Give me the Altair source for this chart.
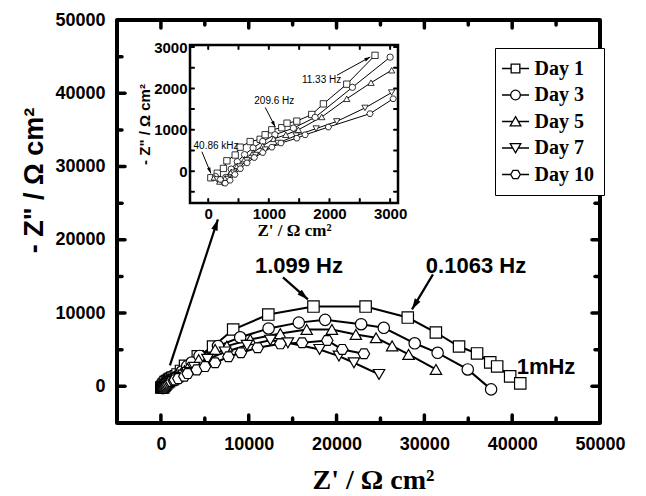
import math
import altair as alt
import pandas as pd

# ---------------- data ----------------
days = ["Day 1", "Day 3", "Day 5", "Day 7", "Day 10"]

d1_x = [44, 150, 252, 308, 445, 527, 692, 857, 939, 1049, 1214, 1300, 1461, 1708, 1900, 2285, 2751,
        4200, 5940, 8230, 12230, 17370, 23310, 28110, 31310, 33950, 36000, 37500, 38290, 39770, 40920]
d1_y = [-160, -50, 66, 250, 390, 580, 715, 770, 880, 1000, 1050, 1160, 1210, 1370, 1627, 2103, 2800,
        4100, 5440, 7760, 9800, 10890, 10890, 9390, 7350, 5440, 4490, 3270, 2720, 1360, 410]

d3_x = [120, 200, 290, 380, 480, 600, 740, 900, 1100, 1405, 1763, 2378, 3000,
        3500, 4400, 6500, 9030, 12260, 15700, 18700, 22800, 25380, 28900, 31510, 34940, 37600]
d3_y = [-130, -230, -150, 50, 230, 400, 560, 720, 880, 1040, 1300, 2027, 2756,
        3250, 4150, 5500, 6700, 7900, 8700, 9080, 8480, 7990, 5880, 4580, 2310, -410]

d5_x = [100, 190, 280, 380, 480, 600, 740, 900, 1080, 1280, 1488, 1873, 2285, 2685, 3025,
        4300, 6170, 7510, 10170, 13600, 16600, 19470, 22200, 24500, 26330, 28200, 31320]
d5_y = [-150, -250, -170, -20, 130, 290, 450, 610, 780, 880, 1000, 1310, 1749, 2139, 2440,
        3650, 5040, 5490, 6400, 7200, 7760, 7760, 7080, 6630, 5530, 4360, 2310]

d7_x = [150, 240, 330, 420, 520, 640, 780, 940, 1150, 1450, 1780, 2120, 2586, 3025,
        3800, 5300, 7300, 9800, 12460, 14460, 18070, 20270, 21980, 24840]
d7_y = [-200, -290, -190, -40, 110, 260, 390, 520, 680, 860, 1030, 1202, 1529, 1900,
        2600, 3700, 4700, 5600, 6300, 5950, 5040, 4130, 3220, 1630]

d10_x = [200, 280, 360, 440, 530, 640, 760, 900, 1050, 1200, 1461, 1598, 1982, 2668, 3050,
         4080, 5030, 6170, 7690, 9110, 11010, 13600, 16080, 18940, 20650, 23120]
d10_y = [-200, -290, -220, -80, 60, 200, 330, 450, 580, 680, 797, 878, 1066, 1390, 1750,
         2250, 2700, 3220, 4040, 4590, 5270, 5810, 5950, 6260, 5040, 4450]

series_x = [d1_x, d3_x, d5_x, d7_x, d10_x]
series_y = [d1_y, d3_y, d5_y, d7_y, d10_y]

main_ticks = [0, 10000, 20000, 30000, 40000, 50000]
inset_ticks = [0, 1000, 2000, 3000]

main_notes = ["1.099 Hz", "0.1063 Hz", "1mHz"]
main_notes_x = [15720, 35880, 43850]
main_notes_y = [16370, 16370, 2590]
main_arrow_x0 = [1030, 13900, 30980]
main_arrow_y0 = [2860, 14870, 15280]
main_arrow_x1 = [6490, 16740, 28590]
main_arrow_y1 = [22780, 11870, 10500]

inset_notes = ["40.86 kHz", "209.6 Hz", "11.33 Hz"]
inset_notes_x = [130, 1090, 1870]
inset_notes_y = [600, 1690, 2200]
inset_arrow_x0 = [-104, 941, 2124]
inset_arrow_y0 = [470, 1539, 2319]
inset_arrow_x1 = [45, 1106, 2673]
inset_arrow_y1 = [-56, 1070, 2761]

# ---------------- layout / style ----------------
W, H = 483, 403
MAIN_DOM = [-5000, 50000]
IX_DOM, IY_DOM = [-300, 3130], [-770, 3050]
IX_RANGE, IY_RANGE = [73, 281], [183, 25]
LEGEND_X, LEGEND_Y = 378, 28

SANS = "Liberation Sans"
SERIF = "Liberation Serif"

hexagon = "M-1,0L-0.5,-0.866L0.5,-0.866L1,0L0.5,0.866L-0.5,0.866Z"
point_shapes = ["square", "circle", "triangle-up", "triangle-down", hexagon]
legend_shapes = [
    "M-1.4,0H-0.45M0.45,0H1.4M-0.45,-0.45H0.45V0.45H-0.45Z",
    "M-1.4,0H-0.5M0.5,0H1.4M-0.5,0A0.5,0.5,0,1,0,0.5,0A0.5,0.5,0,1,0,-0.5,0Z",
    "M-1.4,0H-0.29M0.29,0H1.4M0,-0.5L0.55,0.45H-0.55Z",
    "M-1.4,0H-0.29M0.29,0H1.4M0,0.5L0.55,-0.45H-0.55Z",
    "M-1.4,0H-0.5M0.5,0H1.4M-0.5,0L-0.25,-0.43L0.25,-0.43L0.5,0L0.25,0.43L-0.25,0.43Z",
]
arrow_head = "M0,0L0.6,2L-0.6,2Z"

rows = []
for name, xs, ys in zip(days, series_x, series_y):
    for i, (a, b) in enumerate(zip(xs, ys)):
        rows.append({"day": name, "i": i, "x": a, "y": b})
df = pd.DataFrame(rows)
inset_df = df[(df.x >= IX_DOM[0]) & (df.x <= IX_DOM[1]) & (df.y >= IY_DOM[0]) & (df.y <= IY_DOM[1])]


def mx():
    return alt.Scale(domain=MAIN_DOM, nice=False, zero=False)


def ix():
    return alt.Scale(domain=IX_DOM, range=IX_RANGE, nice=False, zero=False)


def iy():
    return alt.Scale(domain=IY_DOM, range=IY_RANGE, nice=False, zero=False)


def arrows(x0, y0, x1, y1, kx, ky):
    out = []
    for a, b, c, d in zip(x0, y0, x1, y1):
        ang = math.degrees(math.atan2((c - a) * kx, (d - b) * ky)) % 360
        out.append({"x0": a, "y0": b, "x1": c, "y1": d, "ang": ang})
    return pd.DataFrame(out)


def tick_rules(vals_x, vals_y, xdom, ydom, major_every, lx_major, lx_minor, ly_major, ly_minor):
    out = []
    for v in vals_x:
        ly = ly_major if v % major_every == 0 else ly_minor
        out.append({"tx": v, "ty": ydom[0], "tx2": v, "ty2": ydom[0] + ly})
        out.append({"tx": v, "ty": ydom[1], "tx2": v, "ty2": ydom[1] - ly})
    for v in vals_y:
        lx = lx_major if v % major_every == 0 else lx_minor
        out.append({"tx": xdom[0], "ty": v, "tx2": xdom[0] + lx, "ty2": v})
        out.append({"tx": xdom[1], "ty": v, "tx2": xdom[1] - lx, "ty2": v})
    return pd.DataFrame(out)


# ---------------- main panel ----------------
kx_main = W / (MAIN_DOM[1] - MAIN_DOM[0])
ky_main = H / (MAIN_DOM[1] - MAIN_DOM[0])
mt = list(range(0, 50000, 5000))
main_tick_df = tick_rules(mt, mt, MAIN_DOM, MAIN_DOM, 10000,
                          8 / kx_main, 5 / kx_main, 8 / ky_main, 5 / ky_main)
main_frame_df = pd.DataFrame({"x0": [MAIN_DOM[0]], "x1": [MAIN_DOM[1]], "y0": [MAIN_DOM[0]], "y1": [MAIN_DOM[1]]})

x_axis_main = alt.Axis(orient="bottom", values=main_ticks, format="d", ticks=False, domain=False, grid=False,
                       labelFont=SANS, labelFontWeight="bold", labelFontSize=18, labelColor="black",
                       labelPadding=12, labelFlush=False, labelOverlap=False,
                       title="Z' / Ω cm²", titleFont=SERIF, titleFontSize=28, titleFontWeight="bold",
                       titleColor="black", titleX=256, titleY=57, titleBaseline="middle")
y_axis_main = alt.Axis(orient="left", values=main_ticks, format="d", ticks=False, domain=False, grid=False,
                       labelFont=SANS, labelFontWeight="bold", labelFontSize=18, labelColor="black",
                       labelPadding=12, labelFlush=False, labelOverlap=False,
                       title="- Z\" / Ω cm²", titleFont=SANS, titleFontSize=27, titleFontWeight="bold",
                       titleColor="black", titleX=-83, titleY=160, titleBaseline="middle")

main_frame = alt.Chart(main_frame_df).mark_rect(fill=None, stroke="black", strokeWidth=4,
                                               strokeJoin="round").encode(
    x=alt.X("x0:Q", scale=mx(), axis=x_axis_main), x2="x1:Q",
    y=alt.Y("y0:Q", scale=mx(), axis=y_axis_main), y2="y1:Q",
)
main_lines = alt.Chart(df).mark_line(color="black", strokeWidth=2).encode(
    x=alt.X("x:Q", scale=mx(), axis=None),
    y=alt.Y("y:Q", scale=mx(), axis=None),
    detail="day:N",
    order="i:Q",
)
main_tick_layer = alt.Chart(main_tick_df).mark_rule(color="black", strokeWidth=3.5, strokeCap="round").encode(
    x=alt.X("tx:Q", scale=mx(), axis=None), y=alt.Y("ty:Q", scale=mx(), axis=None),
    x2="tx2:Q", y2="ty2:Q",
)
main_points = alt.Chart(df).mark_point(filled=True, fill="white", stroke="black", strokeWidth=1.2,
                                       size=130, opacity=1).encode(
    x=alt.X("x:Q", scale=mx(), axis=None),
    y=alt.Y("y:Q", scale=mx(), axis=None),
    shape=alt.Shape("day:N", scale=alt.Scale(domain=days, range=point_shapes), legend=None),
)
main_arrow_df = arrows(main_arrow_x0, main_arrow_y0, main_arrow_x1, main_arrow_y1, kx_main, ky_main)
main_arrow_lines = alt.Chart(main_arrow_df).mark_rule(color="black", strokeWidth=2.2).encode(
    x=alt.X("x0:Q", scale=mx(), axis=None), y=alt.Y("y0:Q", scale=mx(), axis=None),
    x2="x1:Q", y2="y1:Q",
)
main_arrow_heads = alt.Chart(main_arrow_df).mark_point(shape=arrow_head, filled=True, color="black",
                                                       size=121, opacity=1).encode(
    x=alt.X("x1:Q", scale=mx(), axis=None), y=alt.Y("y1:Q", scale=mx(), axis=None),
    angle=alt.Angle("ang:Q", scale=None),
)
main_text_df = pd.DataFrame({"t": main_notes, "x": main_notes_x, "y": main_notes_y})
main_text = alt.Chart(main_text_df).mark_text(font=SANS, fontWeight="bold", fontSize=22, color="black",
                                             align="center", baseline="middle").encode(
    x=alt.X("x:Q", scale=mx(), axis=None), y=alt.Y("y:Q", scale=mx(), axis=None), text="t:N",
)

# ---------------- inset panel ----------------
kx_in = (IX_RANGE[1] - IX_RANGE[0]) / (IX_DOM[1] - IX_DOM[0])
ky_in = (IY_RANGE[0] - IY_RANGE[1]) / (IY_DOM[1] - IY_DOM[0])
inset_frame_df = pd.DataFrame({"x0": [IX_DOM[0]], "x1": [IX_DOM[1]], "y0": [IY_DOM[0]], "y1": [IY_DOM[1]]})
itx = list(range(0, 3001, 500))
ity = list(range(-500, 3001, 500))
inset_tick_df = tick_rules(itx, ity, IX_DOM, IY_DOM, 500, 4 / kx_in, 4 / kx_in, 4 / ky_in, 4 / ky_in)

x_axis_in = alt.Axis(orient="bottom", offset=-(H - IY_RANGE[0]), values=inset_ticks, format="d",
                     ticks=False, domain=False, grid=False,
                     labelFont=SANS, labelFontWeight="bold", labelFontSize=15, labelColor="black",
                     labelPadding=3, labelFlush=False, labelOverlap=False,
                     title="Z' / Ω cm²", titleFont=SERIF, titleFontSize=17, titleFontWeight="bold",
                     titleColor="black", titlePadding=1)
y_axis_in = alt.Axis(orient="left", offset=-IX_RANGE[0], values=inset_ticks, format="d",
                     ticks=False, domain=False, grid=False,
                     labelFont=SANS, labelFontWeight="bold", labelFontSize=15, labelColor="black",
                     labelPadding=3, labelFlush=False, labelOverlap=False,
                     title="- Z\" / Ω cm²", titleFont=SANS, titleFontSize=15, titleFontWeight="bold",
                     titleColor="black", titlePadding=1)

inset_rect = alt.Chart(inset_frame_df).mark_rect(fill="white", stroke="black", strokeWidth=2.5).encode(
    x=alt.X("x0:Q", scale=ix(), axis=x_axis_in), x2="x1:Q",
    y=alt.Y("y0:Q", scale=iy(), axis=y_axis_in), y2="y1:Q",
)
inset_tick_layer = alt.Chart(inset_tick_df).mark_rule(color="black", strokeWidth=2, strokeCap="round").encode(
    x=alt.X("tx:Q", scale=ix(), axis=None), y=alt.Y("ty:Q", scale=iy(), axis=None),
    x2="tx2:Q", y2="ty2:Q",
)
inset_lines = alt.Chart(inset_df).mark_line(color="black", strokeWidth=1).encode(
    x=alt.X("x:Q", scale=ix(), axis=None), y=alt.Y("y:Q", scale=iy(), axis=None),
    detail="day:N", order="i:Q",
)
inset_points = alt.Chart(inset_df).mark_point(filled=True, fill="white", stroke="black", strokeWidth=0.8,
                                              size=40, opacity=1).encode(
    x=alt.X("x:Q", scale=ix(), axis=None), y=alt.Y("y:Q", scale=iy(), axis=None),
    shape=alt.Shape("day:N", scale=alt.Scale(domain=days, range=point_shapes), legend=None),
)
inset_arrow_df = arrows(inset_arrow_x0, inset_arrow_y0, inset_arrow_x1, inset_arrow_y1, kx_in, ky_in)
inset_arrow_lines = alt.Chart(inset_arrow_df).mark_rule(color="black", strokeWidth=1).encode(
    x=alt.X("x0:Q", scale=ix(), axis=None), y=alt.Y("y0:Q", scale=iy(), axis=None),
    x2="x1:Q", y2="y1:Q",
)
inset_arrow_heads = alt.Chart(inset_arrow_df).mark_point(shape=arrow_head, filled=True, color="black",
                                                         size=36, opacity=1).encode(
    x=alt.X("x1:Q", scale=ix(), axis=None), y=alt.Y("y1:Q", scale=iy(), axis=None),
    angle=alt.Angle("ang:Q", scale=None),
)
inset_text_df = pd.DataFrame({"t": inset_notes, "x": inset_notes_x, "y": inset_notes_y})
inset_text = alt.Chart(inset_text_df).mark_text(font=SANS, fontSize=10, color="black",
                                               align="center", baseline="middle").encode(
    x=alt.X("x:Q", scale=ix(), axis=None), y=alt.Y("y:Q", scale=iy(), axis=None), text="t:N",
)

# ---------------- legend (its helper marks sit under the legend's own white box) ----------------
legend_df = pd.DataFrame({"day": days})
legend_layer = alt.Chart(legend_df).mark_point(filled=True, fill="white", stroke="black",
                                               strokeWidth=1.3, opacity=1, size=100).encode(
    x=alt.value(LEGEND_X + 50),
    y=alt.value(LEGEND_Y + 70),
    shape=alt.Shape("day:N", scale=alt.Scale(domain=days, range=legend_shapes),
                    legend=alt.Legend(title=None, orient="none", legendX=LEGEND_X, legendY=LEGEND_Y,
                                      direction="vertical", padding=10, rowPadding=5.5,
                                      strokeColor="black", fillColor="white",
                                      symbolSize=372, symbolStrokeWidth=1.3,
                                      labelFont=SERIF, labelFontWeight="bold",
                                      labelFontSize=20, labelOffset=8.5, labelColor="black")),
)

chart = alt.layer(
    main_lines, main_tick_layer, main_points, main_arrow_lines, main_arrow_heads, main_text,
    inset_rect, inset_tick_layer, inset_lines, inset_points, inset_arrow_lines, inset_arrow_heads, inset_text,
    main_frame, legend_layer,
).resolve_scale(
    x="independent", y="independent", shape="independent"
).properties(
    width=W, height=H, padding={"left": 12, "top": 3, "right": 5, "bottom": 5}
).configure_view(
    stroke=None
).configure(background="white")

chart.save("out.html", embed_options={"renderer": "svg", "actions": False})
